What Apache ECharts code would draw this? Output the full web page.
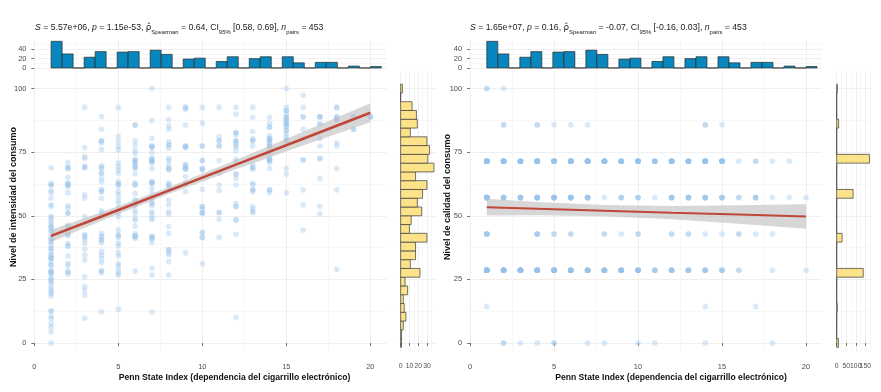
<!DOCTYPE html>
<html><head><meta charset="utf-8">
<script src="https://cdn.jsdelivr.net/npm/echarts@6/dist/echarts.min.js"></script>
<style>html,body{margin:0;padding:0;background:#fff}#c{width:881px;height:392px}</style>
</head><body><div id="c"></div>
<script>
// ---------------- data ----------------
const xTickValues = [0, 5, 10, 15, 20];
const xMinorValues = [2.5, 7.5, 12.5, 17.5];
const yTickValues = [0, 25, 50, 75, 100];
const yMinorValues = [12.5, 37.5, 62.5, 87.5];

// top marginal histogram (Penn State Index), same in both panels
const psiLevels = [1, 2, 3, 4, 5, 6, 7, 8, 9, 10, 11, 12, 13, 14, 15, 16, 17, 18, 19, 20];
const psiCounts = [57, 30, 23, 35, 34, 35, 38, 29, 19, 21, 14, 24, 20, 24, 24, 11, 12, 12, 4, 3];
const psiTickValues = [0, 20, 40];
const psiMinorValues = [10, 30, 50];

// right marginal histogram of intensity (30 bins, from 0 to 100)
const intensityBinCounts = [1, 1, 3, 6, 4, 3, 8, 5, 22, 11, 17, 17, 30, 10, 12, 24, 19, 25, 30, 17, 38, 31, 33, 30, 11, 19, 18, 13, 0, 2];
const intensityCountTicks = [0, 10, 20, 30];
const intensityCountMinor = [5, 15, 25, 35];

// scatter: intensity values for PSI = 1 .. 20
const intensityByPSI = [
  [68.9, 62.8, 62.1, 62.1, 59.9, 59.1, 56.9, 54.3, 53.7, 49.8, 49.4, 48.3, 47.3, 46.4, 45.5, 45.5, 44.0, 44.0, 42.4, 41.1, 41.1, 40.0, 39.8, 38.5, 37.2, 37.2, 35.9, 34.6, 34.6, 33.3, 33.3, 33.3, 31.9, 30.6, 30.6, 28.6, 28.0, 28.0, 27.4, 26.7, 25.4, 24.5, 24.5, 23.5, 22.1, 21.1, 20.2, 19.5, 18.5, 12.6, 12.6, 10.4, 9.7, 7.7, 6.4, 4.4, 0],
  [70.9, 69.0, 69.0, 68.5, 65.1, 62.8, 62.8, 62.1, 62.1, 61.4, 59.1, 53.9, 52.9, 51.0, 51.0, 46.4, 45.7, 45.7, 43.1, 42.4, 42.4, 39.2, 38.1, 38.1, 34.2, 31.3, 30.3, 28.0, 28.0, 27.1],
  [92.6, 76.8, 73.3, 72.5, 69.6, 69.0, 68.9, 58.2, 56.9, 49.7, 42.4, 42.4, 41.5, 40.7, 39.2, 36.8, 34.6, 32.6, 26.1, 22.1, 20.8, 18.9, 9.7],
  [89.0, 84.0, 79.5, 79.5, 78.7, 76.1, 69.6, 69.0, 68.6, 66.7, 66.7, 64.7, 63.4, 60.4, 59.5, 59.5, 56.9, 52.0, 51.0, 49.9, 43.1, 41.8, 41.8, 40.5, 40.5, 39.4, 35.9, 34.6, 33.3, 31.6, 28.4, 28.4, 27.6, 12.3],
  [92.6, 81.1, 79.1, 77.2, 75.9, 70.7, 69.3, 68.0, 66.7, 63.4, 62.5, 62.5, 61.7, 59.5, 58.2, 56.2, 54.9, 52.9, 51.0, 49.7, 44.4, 42.4, 42.4, 41.5, 39.2, 38.1, 35.5, 34.2, 31.1, 30.3, 28.7, 27.4, 26.7, 13.3],
  [85.7, 85.7, 79.5, 77.8, 75.9, 74.6, 72.2, 71.7, 71.7, 70.7, 70.7, 69.3, 69.3, 68.6, 66.4, 63.0, 62.1, 62.1, 58.8, 56.2, 56.2, 54.3, 54.3, 52.3, 51.0, 49.0, 48.3, 46.0, 43.1, 42.0, 42.0, 41.8, 41.1, 28.3],
  [100, 87.4, 80.4, 77.4, 77.4, 77.0, 76.9, 74.8, 72.5, 72.5, 71.7, 71.7, 70.9, 70.9, 68.6, 63.4, 63.4, 62.8, 62.8, 60.8, 58.8, 56.9, 56.9, 54.9, 54.9, 53.9, 51.6, 50.7, 49.0, 48.6, 41.8, 41.8, 41.1, 41.1, 39.4, 29.4, 26.7, 12.3],
  [92.6, 87.7, 85.3, 84.0, 79.1, 77.8, 77.8, 76.5, 72.5, 71.7, 70.0, 68.6, 68.6, 68.0, 63.0, 62.1, 62.1, 61.2, 56.2, 54.3, 51.6, 50.7, 45.7, 43.1, 36.6, 36.6, 35.5, 34.6, 31.9, 26.7],
  [92.6, 92.6, 91.8, 85.7, 77.4, 77.4, 76.9, 76.9, 70.0, 70.0, 69.0, 69.0, 68.3, 68.3, 65.4, 62.8, 62.8, 59.5, 35.5],
  [92.6, 86.4, 77.4, 77.4, 71.7, 71.7, 68.6, 68.6, 68.0, 60.4, 53.6, 53.6, 52.6, 51.3, 51.0, 51.0, 43.4, 43.4, 41.5, 41.5, 31.1],
  [92.6, 81.1, 79.5, 79.5, 77.4, 77.4, 71.7, 66.7, 62.1, 59.9, 51.3, 51.3, 48.6, 41.5],
  [92.6, 89.9, 82.7, 82.7, 81.8, 79.5, 79.5, 78.7, 77.4, 77.4, 75.6, 72.2, 71.3, 66.4, 66.4, 64.7, 62.1, 54.9, 53.6, 53.6, 48.6, 48.1, 42.7, 10.0],
  [92.6, 88.7, 83.1, 80.4, 79.5, 79.5, 77.4, 70.3, 69.0, 69.0, 68.3, 62.5, 62.5, 60.2, 60.2, 59.5, 53.6, 52.6, 51.6, 51.3],
  [88.7, 86.4, 84.8, 84.8, 81.4, 80.4, 80.4, 79.8, 79.8, 78.7, 78.7, 77.4, 77.4, 76.9, 73.9, 72.2, 72.2, 71.7, 71.7, 70.9, 68.6, 60.2, 60.2, 59.1],
  [100, 92.6, 91.3, 91.3, 89.9, 88.7, 88.7, 87.7, 87.7, 86.6, 86.6, 85.7, 85.7, 84.8, 83.5, 83.5, 82.2, 80.9, 79.8, 79.8, 79.1, 68.6, 66.4, 59.1],
  [97.4, 92.6, 88.9, 88.9, 84.0, 80.1, 71.9, 71.9, 60.2, 54.3, 44.4],
  [88.9, 88.9, 88.9, 86.1, 86.1, 80.4, 77.4, 72.5, 72.5, 64.7, 53.6, 50.7],
  [92.6, 92.6, 88.9, 88.9, 87.9, 87.9, 87.9, 78.7, 77.4, 68.6, 60.2, 29.0],
  [88.9, 88.9, 84.0, 84.0],
  [88.9, 88.9, 88.9]
];

// right panel: quality levels, histogram counts and points [psi, repeats]
const qualityLevels = [0, 14.29, 28.57, 42.86, 57.14, 71.43, 85.71, 100];
const qualityLevelCounts = [9, 3, 139, 28, 86, 172, 10, 3];
const qualityCountTicks = [0, 50, 100, 150];
const qualityCountMinor = [25, 75, 125, 175];
const qualityAt0 = [[2, 2], [3, 1], [4, 1], [5, 2], [7, 1], [8, 1], [10, 1], [11, 1], [14, 1], [18, 1]];
const qualityAt14 = [[1, 1], [14, 1], [17, 1]];
const qualityAt29 = [[1, 20], [2, 12], [3, 12], [4, 12], [5, 12], [6, 10], [7, 9], [8, 9], [9, 8], [10, 8], [11, 4], [12, 6], [13, 5], [14, 5], [15, 4], [16, 2], [18, 1], [20, 1]];
const qualityAt43 = [[1, 5], [4, 4], [5, 2], [6, 2], [8, 2], [9, 1], [10, 2], [12, 2], [13, 2], [14, 1], [15, 1], [16, 2], [17, 1], [18, 1]];
const qualityAt57 = [[1, 10], [2, 6], [3, 6], [4, 7], [5, 7], [6, 7], [7, 6], [8, 1], [9, 3], [10, 3], [11, 1], [12, 5], [13, 5], [14, 5], [15, 4], [16, 2], [17, 4], [18, 1], [19, 1], [20, 1]];
const qualityAt71 = [[1, 18], [2, 12], [3, 10], [4, 14], [5, 13], [6, 14], [7, 15], [8, 11], [9, 8], [10, 9], [11, 6], [12, 10], [13, 8], [14, 10], [15, 9], [16, 1], [17, 2], [18, 1], [19, 1]];
const qualityAt86 = [[2, 2], [4, 2], [5, 1], [6, 1], [7, 1], [14, 2], [15, 1]];
const qualityAt100 = [[1, 2], [2, 1]];
const qualityPointsByLevel = [qualityAt0, qualityAt14, qualityAt29, qualityAt43, qualityAt57, qualityAt71, qualityAt86, qualityAt100];

// linear fits and 95% bands
const fitX = [1, 4, 8, 12, 16, 20];
const intensityFit = [42.1, 49.7, 59.9, 70.1, 80.3, 90.5];
const intensityLow = [39.7, 48.0, 58.6, 68.3, 77.6, 86.8];
const intensityHigh = [44.5, 51.4, 61.2, 71.9, 83.0, 94.2];
const qualityFit = [53.4, 52.8, 52.0, 51.2, 50.5, 49.7];
const qualityLow = [50.1, 50.2, 49.8, 48.6, 46.9, 44.9];
const qualityHigh = [56.7, 55.4, 54.2, 53.8, 54.1, 54.5];

const titleLeft = '{i|S} = 5.57e+06, {i|p} = 1.15e-53, {rho|\u03C1\u0302}{sub|Spearman} = 0.64, CI{sub|95%} [0.58, 0.69], {i|n}{sub|pairs} = 453';
const titleRight = '{i|S} = 1.65e+07, {i|p} = 0.16, {rho|\u03C1\u0302}{sub|Spearman} = -0.07, CI{sub|95%} [-0.16, 0.03], {i|n}{sub|pairs} = 453';
const xTitle = 'Penn State Index (dependencia del cigarrillo electrónico)';
const yTitleLeft = 'Nivel de intensidad del consumo';
const yTitleRight = 'Nivel de calidad del consumo';

// ---------------- derived ----------------
const psiBinWidth = 19 / 29;
const yBinWidth = 100 / 29;
const psiBins = [];
for (let k = 0; k < 30; k++) psiBins.push([1 + k * psiBinWidth, 0]);
psiLevels.forEach((v, i) => { const k = Math.min(29, Math.floor((v - 1) / psiBinWidth + 1e-6)); psiBins[k][1] += psiCounts[i]; });
const intensityBins = intensityBinCounts.map((c, k) => [k * yBinWidth, c]);
const qualityBins = [];
for (let k = 0; k < 30; k++) qualityBins.push([k * yBinWidth, 0]);
qualityLevels.forEach((v, i) => { qualityBins[Math.round(v / yBinWidth)][1] += qualityLevelCounts[i]; });

const intensityPoints = [];
intensityByPSI.forEach((arr, i) => arr.forEach(y => intensityPoints.push([psiLevels[i], y])));
const qualityPoints = [];
qualityPointsByLevel.forEach((arr, li) => arr.forEach(([x, n]) => { for (let r = 0; r < n; r++) qualityPoints.push([x, qualityLevels[li]]); }));

// ---------------- style / layout ----------------
const FONT = '"Liberation Sans", Arial, Helvetica, sans-serif';
const LBL = '#4d4d4d';
const MAJ = '#ebebeb';
const MIN = '#f5f5f5';
const MAIN_TOP = 70.5, MAIN_H = 281.5;
const Y_MIN = -3.54, Y_MAX = 107.1;
const X_MIN = -0.048, X_MAX = 20.95;
const PANEL_W = 352.8;

const grids = [
  {left: 33.5, top: MAIN_TOP, width: PANEL_W, height: MAIN_H},
  {left: 33.5, top: 40, width: PANEL_W, height: 29.3},
  {left: 398.9, top: MAIN_TOP, width: 36.4, height: MAIN_H},
  {left: 469.2, top: MAIN_TOP, width: PANEL_W, height: MAIN_H},
  {left: 469.2, top: 40, width: PANEL_W, height: 29.3},
  {left: 835, top: MAIN_TOP, width: 36, height: MAIN_H}
];

function axisPair(dim, gridIndex, min, max, ticks, minor, showTicks, fs, showLabels) {
  const pos = dim === 'x' ? ['bottom', 'top'] : ['left', 'right'];
  const labels = showLabels === undefined ? showTicks : showLabels;
  const main = {
    type: 'value', gridIndex, min, max, position: pos[0],
    axisLine: {show: false},
    axisTick: {show: showTicks, length: 3, lineStyle: {color: '#555', width: 0.8}, customValues: ticks},
    axisLabel: {show: labels, customValues: ticks, color: LBL, fontSize: fs || 7.5, fontFamily: FONT, margin: dim === 'x' ? 11 : 7, hideOverlap: false, showMinLabel: true, showMaxLabel: true},
    splitLine: {show: true, lineStyle: {color: MAJ, width: 0.8}}
  };
  const minorAxis = {
    type: 'value', gridIndex, min, max, position: pos[1],
    axisLine: {show: false},
    axisTick: {show: false, customValues: minor},
    axisLabel: {show: false, customValues: minor},
    splitLine: {show: true, lineStyle: {color: MIN, width: 0.8}}
  };
  return [main, minorAxis];
}

const xAxes = [].concat(
  axisPair('x', 0, X_MIN, X_MAX, xTickValues, xMinorValues, true),
  axisPair('x', 1, X_MIN, X_MAX, xTickValues, xMinorValues, false),
  axisPair('x', 2, -2, 39.5, intensityCountTicks, intensityCountMinor, true, 6.8),
  axisPair('x', 3, X_MIN, X_MAX, xTickValues, xMinorValues, true),
  axisPair('x', 4, X_MIN, X_MAX, xTickValues, xMinorValues, false),
  axisPair('x', 5, -9, 180, qualityCountTicks, qualityCountMinor, true, 6.8, false)
);
const yAxes = [].concat(
  axisPair('y', 0, Y_MIN, Y_MAX, yTickValues, yMinorValues, true),
  axisPair('y', 1, -2.85, 59.85, psiTickValues, psiMinorValues, true),
  axisPair('y', 2, Y_MIN, Y_MAX, yTickValues, yMinorValues, false),
  axisPair('y', 3, Y_MIN, Y_MAX, yTickValues, yMinorValues, true),
  axisPair('y', 4, -2.85, 59.85, psiTickValues, psiMinorValues, true),
  axisPair('y', 5, Y_MIN, Y_MAX, yTickValues, yMinorValues, false)
);

function bandSeries(g, xs, lo, hi) {
  return {
    type: 'custom', xAxisIndex: 2 * g, yAxisIndex: 2 * g, z: 3, silent: true,
    data: xs.map((x, i) => [x, lo[i], hi[i]]),
    renderItem: function (params, api) {
      if (params.dataIndex !== 0) return null;
      const pts = [];
      xs.forEach((x, i) => pts.push(api.coord([x, hi[i]])));
      for (let i = xs.length - 1; i >= 0; i--) pts.push(api.coord([xs[i], lo[i]]));
      return {type: 'polygon', shape: {points: pts}, style: {fill: 'rgba(190,190,190,0.62)'}};
    }
  };
}
function lineSeries(g, xs, ys, w) {
  return {
    type: 'line', xAxisIndex: 2 * g, yAxisIndex: 2 * g, z: 4, silent: true,
    data: xs.map((x, i) => [x, ys[i]]), symbol: 'none',
    lineStyle: {color: '#C0463A', width: w}
  };
}
function scatterSeries(g, pts) {
  return {
    type: 'scatter', xAxisIndex: 2 * g, yAxisIndex: 2 * g, z: 2, silent: true,
    data: pts, symbolSize: 5.6,
    itemStyle: {color: 'rgba(150,194,234,0.45)', borderWidth: 0}
  };
}
function topHist(g, bins, bw) {
  return {
    type: 'custom', xAxisIndex: 2 * g, yAxisIndex: 2 * g, z: 2, silent: true,
    data: bins,
    renderItem: function (params, api) {
      const x0 = api.value(0), c = api.value(1);
      const p1 = api.coord([x0, 0]), p2 = api.coord([x0 + bw, c]);
      return {type: 'rect', shape: {x: p1[0], y: p2[1], width: p2[0] - p1[0], height: p1[1] - p2[1]},
        style: {fill: '#0787BD', stroke: '#2a2a2a', lineWidth: 0.7}};
    }
  };
}
function sideHist(g, bins, bw) {
  return {
    type: 'custom', xAxisIndex: 2 * g, yAxisIndex: 2 * g, z: 2, silent: true,
    data: bins,
    renderItem: function (params, api) {
      const yc = api.value(0), c = api.value(1);
      const p1 = api.coord([0, yc + bw / 2]), p2 = api.coord([c, yc - bw / 2]);
      return {type: 'rect', shape: {x: p1[0], y: p1[1], width: p2[0] - p1[0], height: p2[1] - p1[1]},
        style: {fill: '#FCE38A', stroke: '#3a3a3a', lineWidth: 0.7}};
    }
  };
}
// count-axis labels that overlap in the reference (drawn at their tick positions)
function countLabels(g, ticks) {
  return {
    type: 'custom', xAxisIndex: 2 * g, yAxisIndex: 2 * g, z: 5, silent: true, clip: false,
    data: ticks.map(v => [v, Y_MIN]),
    renderItem: function (params, api) {
      const p = api.coord([api.value(0), api.value(1)]);
      return {type: 'text', x: p[0], y: p[1] + 14.5,
        style: {text: String(api.value(0)), textAlign: 'center', textVerticalAlign: 'middle',
          fontSize: 6.8, fontFamily: FONT, fill: LBL}};
    }
  };
}

const TFS = 8.7;
const rich = {
  i: {fontStyle: 'italic', fontSize: TFS, fontFamily: FONT, lineHeight: 14, fill: '#1a1a1a'},
  rho: {fontSize: TFS, fontFamily: '"DejaVu Sans", sans-serif', lineHeight: 14, fill: '#1a1a1a'},
  sub: {fontSize: 5.9, fontFamily: FONT, verticalAlign: 'bottom', lineHeight: 10, fill: '#1a1a1a'}
};
function titleText(x, text) {
  return {type: 'text', x: x, y: 28, silent: true,
    style: {text: text, fontSize: TFS, fontFamily: FONT, fill: '#1a1a1a', lineHeight: 14, rich: rich,
      textAlign: 'left', textVerticalAlign: 'middle'}};
}
function axisTitle(x, y, text, rot, fs) {
  return {type: 'text', x: x, y: y, rotation: rot, silent: true,
    style: {text: text, fontSize: fs, fontWeight: 'bold', fontFamily: FONT, fill: '#111',
      textAlign: 'center', textVerticalAlign: 'middle'}};
}

const option = {
  animation: false,
  backgroundColor: '#fff',
  grid: grids,
  xAxis: xAxes,
  yAxis: yAxes,
  series: [
    scatterSeries(0, intensityPoints),
    bandSeries(0, fitX, intensityLow, intensityHigh),
    lineSeries(0, fitX, intensityFit, 2.6),
    topHist(1, psiBins, psiBinWidth),
    sideHist(2, intensityBins, yBinWidth),
    scatterSeries(3, qualityPoints),
    bandSeries(3, fitX, qualityLow, qualityHigh),
    lineSeries(3, fitX, qualityFit, 2),
    topHist(4, psiBins, psiBinWidth),
    sideHist(5, qualityBins, yBinWidth),
    countLabels(5, qualityCountTicks)
  ],
  graphic: [
    titleText(35, titleLeft),
    titleText(470, titleRight),
    axisTitle(234.5, 378, xTitle, 0, 8.6),
    axisTitle(671, 378, xTitle, 0, 8.6),
    axisTitle(14, 197, yTitleLeft, Math.PI / 2, 9),
    axisTitle(448, 197, yTitleRight, Math.PI / 2, 9)
  ]
};
const chart = echarts.init(document.getElementById('c'));
chart.setOption(option);
</script>
</body></html>
